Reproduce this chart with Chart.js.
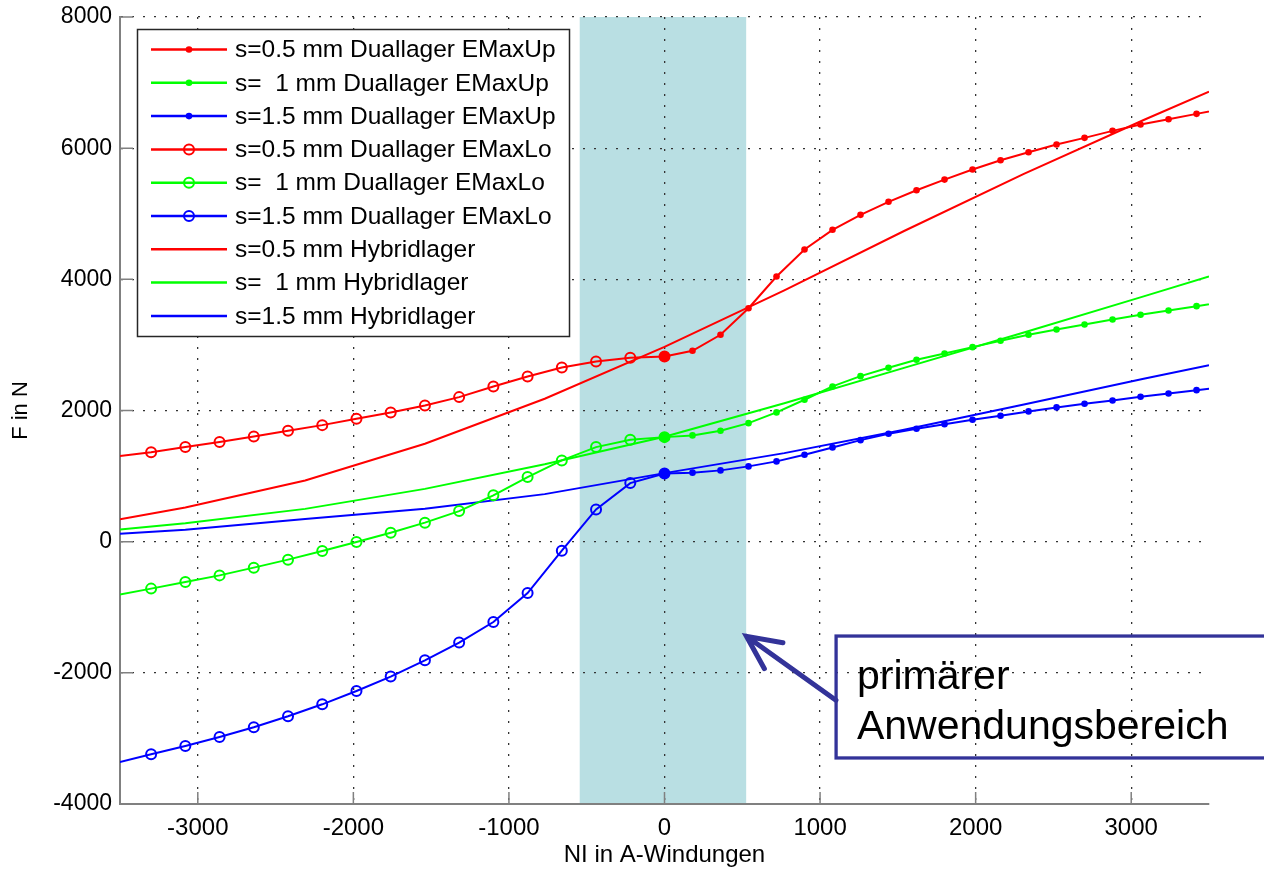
<!DOCTYPE html>
<html>
<head>
<meta charset="utf-8">
<script src="https://cdn.jsdelivr.net/npm/chart.js@4.4.1/dist/chart.umd.min.js"></script>
<style>
  html, body { margin: 0; padding: 0; background: #fff; }
  canvas { display: block; }
</style>
</head>
<body>
<canvas id="chart" width="1264" height="870"></canvas>
<script>
// NI values (A-Windungen)
const niLo = [-3520, -3300, -3080, -2860, -2640, -2420, -2200, -1980, -1760, -1540, -1320, -1100, -880, -660, -440, -220, 0];
const niUp = [0, 180, 360, 540, 720, 900, 1080, 1260, 1440, 1620, 1800, 1980, 2160, 2340, 2520, 2700, 2880, 3060, 3240, 3420, 3600];
const niHy = [-3500, -3080, -2310, -1540, -770, 0, 770, 1540, 2310, 3080, 3500];

// F in N
const upS05 = [2824, 2911, 3155, 3560, 4043, 4455, 4755, 4983, 5182, 5358, 5521, 5674, 5816, 5937, 6055, 6157, 6264, 6360, 6440, 6523, 6606];
const upS10 = [1594, 1620, 1692, 1807, 1971, 2164, 2367, 2524, 2652, 2774, 2870, 2966, 3063, 3155, 3236, 3312, 3388, 3459, 3525, 3591, 3657];
const upS15 = [1040, 1052, 1087, 1148, 1224, 1326, 1437, 1548, 1646, 1722, 1792, 1859, 1920, 1986, 2047, 2103, 2153, 2210, 2260, 2310, 2360];

const loS05 = [1300, 1365, 1442, 1518, 1605, 1692, 1777, 1874, 1971, 2077, 2204, 2367, 2519, 2656, 2748, 2804, 2824];
const loS10 = [-816, -716, -616, -514, -396, -274, -143, -6, 137, 290, 466, 706, 985, 1239, 1442, 1554, 1594];
const loS15 = [-3370, -3242, -3115, -2978, -2830, -2662, -2480, -2277, -2057, -1809, -1539, -1225, -783, -137, 492, 893, 1040];

const hyS05 = [340, 520, 934, 1493, 2179, 2970, 3831, 4737, 5609, 6430, 6860];
const hyS10 = [187, 280, 500, 805, 1180, 1600, 2110, 2650, 3190, 3740, 4043];
const hyS15 = [122, 180, 344, 503, 725, 1045, 1350, 1707, 2092, 2485, 2690];

const seriesLabels = [
  's=0.5 mm Duallager EMaxUp', 's=  1 mm Duallager EMaxUp', 's=1.5 mm Duallager EMaxUp',
  's=0.5 mm Duallager EMaxLo', 's=  1 mm Duallager EMaxLo', 's=1.5 mm Duallager EMaxLo',
  's=0.5 mm Hybridlager', 's=  1 mm Hybridlager', 's=1.5 mm Hybridlager'
];

const xTicks = [-3000, -2000, -1000, 0, 1000, 2000, 3000];
const yTicks = [-4000, -2000, 0, 2000, 4000, 6000, 8000];

// highlighted range and note
const bandRange = [-545, 525];
const noteLines = ['primärer', 'Anwendungsbereich'];

const RED = '#ff0000', GREEN = '#00ff00', BLUE = '#0000ff';
const FONT = '"Liberation Sans", Arial, Helvetica, sans-serif';
Chart.defaults.font.family = FONT;

const pts = (xs, ys) => xs.map((x, i) => ({ x, y: ys[i] }));

function upSet(label, color, ys) {
  return {
    label, data: pts(niUp, ys), marker: 'dot',
    borderColor: color, backgroundColor: color, borderWidth: 2,
    pointRadius: c => (c.dataIndex === niUp.length - 1 ? 0 : 3.3),
    pointBackgroundColor: color, pointBorderColor: color, pointBorderWidth: 0
  };
}
function loSet(label, color, ys) {
  const last = niLo.length - 1;
  return {
    label, data: pts(niLo, ys), marker: 'circle',
    borderColor: color, backgroundColor: 'rgba(0,0,0,0)', borderWidth: 2,
    pointRadius: c => (c.dataIndex === 0 ? 0 : 5),
    pointBackgroundColor: c => (c.dataIndex === last ? color : 'rgba(0,0,0,0)'),
    pointBorderColor: color, pointBorderWidth: 2
  };
}
function hySet(label, color, ys) {
  return {
    label, data: pts(niHy, ys), marker: 'none',
    borderColor: color, backgroundColor: color, borderWidth: 2, pointRadius: 0
  };
}

const bandPlugin = {
  id: 'band',
  beforeDraw(chart) {
    const { ctx, chartArea: a, scales: { x } } = chart;
    const x0 = x.getPixelForValue(bandRange[0]);
    const x1 = x.getPixelForValue(bandRange[1]);
    ctx.save();
    ctx.fillStyle = '#b9dfe3';
    ctx.fillRect(x0, a.top, x1 - x0, a.bottom - a.top);
    ctx.restore();
  }
};

const innerTicks = {
  id: 'innerTicks',
  beforeDatasetsDraw(chart) {
    const { ctx, chartArea: a, scales: { x, y } } = chart;
    ctx.save();
    ctx.strokeStyle = '#808080';
    ctx.lineWidth = 1.5;
    ctx.beginPath();
    xTicks.forEach(v => {
      const px = x.getPixelForValue(v);
      ctx.moveTo(px, a.bottom);
      ctx.lineTo(px, a.bottom - 12);
    });
    yTicks.forEach(v => {
      const py = y.getPixelForValue(v);
      ctx.moveTo(a.left, py);
      ctx.lineTo(a.left + 13, py);
    });
    ctx.stroke();
    ctx.restore();
  }
};

const notePlugin = {
  id: 'note',
  afterDatasetsDraw(chart) {
    const { ctx, scales: { x, y } } = chart;
    const navy = '#333399';
    ctx.save();
    // box
    const bx = x.getPixelForValue(1103), by = y.getPixelForValue(-1439);
    const bb = y.getPixelForValue(-3298);
    ctx.strokeStyle = navy;
    ctx.lineWidth = 3.3;
    ctx.strokeRect(bx, by, 1300 - bx, bb - by);
    // arrow
    const tx = x.getPixelForValue(527), ty = y.getPixelForValue(-1443);
    const sx = x.getPixelForValue(1102), sy = y.getPixelForValue(-2418);
    ctx.lineWidth = 5;
    ctx.lineCap = 'round';
    ctx.beginPath();
    ctx.moveTo(sx, sy);
    ctx.lineTo(tx, ty);
    const back = Math.atan2(sy - ty, sx - tx);
    const hl = 37, ha = 25.5 * Math.PI / 180;
    ctx.moveTo(tx + hl * Math.cos(back - ha), ty + hl * Math.sin(back - ha));
    ctx.lineTo(tx, ty);
    ctx.lineTo(tx + hl * Math.cos(back + ha), ty + hl * Math.sin(back + ha));
    ctx.stroke();
    // text
    ctx.fillStyle = '#000';
    ctx.font = '41px ' + FONT;
    ctx.textBaseline = 'alphabetic';
    ctx.fillText(noteLines[0], x.getPixelForValue(1237), y.getPixelForValue(-2240));
    ctx.fillText(noteLines[1], x.getPixelForValue(1237), y.getPixelForValue(-3013));
    ctx.restore();
  }
};

const legendBox = {
  id: 'legendBox',
  afterDraw(chart) {
    const ctx = chart.ctx;
    ctx.save();
    ctx.fillStyle = '#fff';
    ctx.fillRect(137, 29, 432, 307);
    ctx.strokeStyle = '#262626';
    ctx.lineWidth = 1.5;
    ctx.strokeRect(137.5, 29.5, 432, 307);
    ctx.font = '24.5px ' + FONT;
    ctx.textBaseline = 'middle';
    chart.data.datasets.forEach((ds, i) => {
      const yy = 49.5 + i * 33.3;
      ctx.strokeStyle = ds.borderColor;
      ctx.lineWidth = 2.5;
      ctx.beginPath();
      ctx.moveTo(151, yy);
      ctx.lineTo(227, yy);
      ctx.stroke();
      if (ds.marker === 'dot') {
        ctx.fillStyle = ds.borderColor;
        ctx.beginPath();
        ctx.arc(189, yy, 3.3, 0, Math.PI * 2);
        ctx.fill();
      } else if (ds.marker === 'circle') {
        ctx.lineWidth = 2;
        ctx.beginPath();
        ctx.arc(189, yy, 5, 0, Math.PI * 2);
        ctx.stroke();
      }
      ctx.fillStyle = '#000';
      ctx.fillText(ds.label, 235, yy + 1);
    });
    ctx.restore();
  }
};

const gridOpts = { color: '#333', lineWidth: 1.3, drawTicks: false };
const borderOpts = { display: true, color: '#808080', width: 2, dash: [2, 9] };

new Chart(document.getElementById('chart'), {
  type: 'line',
  data: {
    datasets: [
      upSet(seriesLabels[0], RED, upS05),
      upSet(seriesLabels[1], GREEN, upS10),
      upSet(seriesLabels[2], BLUE, upS15),
      loSet(seriesLabels[3], RED, loS05),
      loSet(seriesLabels[4], GREEN, loS10),
      loSet(seriesLabels[5], BLUE, loS15),
      hySet(seriesLabels[6], RED, hyS05),
      hySet(seriesLabels[7], GREEN, hyS10),
      hySet(seriesLabels[8], BLUE, hyS15)
    ]
  },
  options: {
    responsive: false,
    devicePixelRatio: 1,
    animation: false,
    events: [],
    layout: { padding: { left: 0, top: 17, right: 55, bottom: 0 } },
    elements: { line: { tension: 0 } },
    plugins: { legend: { display: false }, tooltip: { enabled: false } },
    scales: {
      x: {
        type: 'linear', min: -3500, max: 3500,
        afterBuildTicks: s => { s.ticks = xTicks.map(v => ({ value: v })); },
        ticks: { color: '#000', font: { size: 24 }, padding: 10, maxRotation: 0, autoSkip: false, callback: v => String(v) },
        grid: gridOpts,
        border: borderOpts,
        title: { display: true, text: 'NI in A-Windungen', color: '#000', font: { size: 24 }, padding: { top: 0, bottom: 0 } },
        afterFit: s => { s.height = 66; s.paddingLeft = 0; s.paddingRight = 0; }
      },
      y: {
        type: 'linear', min: -4000, max: 8000,
        afterBuildTicks: s => { s.ticks = yTicks.map(v => ({ value: v })); },
        ticks: { color: '#000', font: { size: 23 }, padding: 8, callback: v => String(v) },
        grid: gridOpts,
        border: borderOpts,
        title: { display: true, text: 'F in N', color: '#000', font: { size: 22 }, padding: { top: 8, bottom: 0 } },
        afterFit: s => { s.width = 120; s.paddingTop = 0; s.paddingBottom = 0; }
      }
    }
  },
  plugins: [bandPlugin, innerTicks, notePlugin, legendBox]
});
</script>
</body>
</html>
